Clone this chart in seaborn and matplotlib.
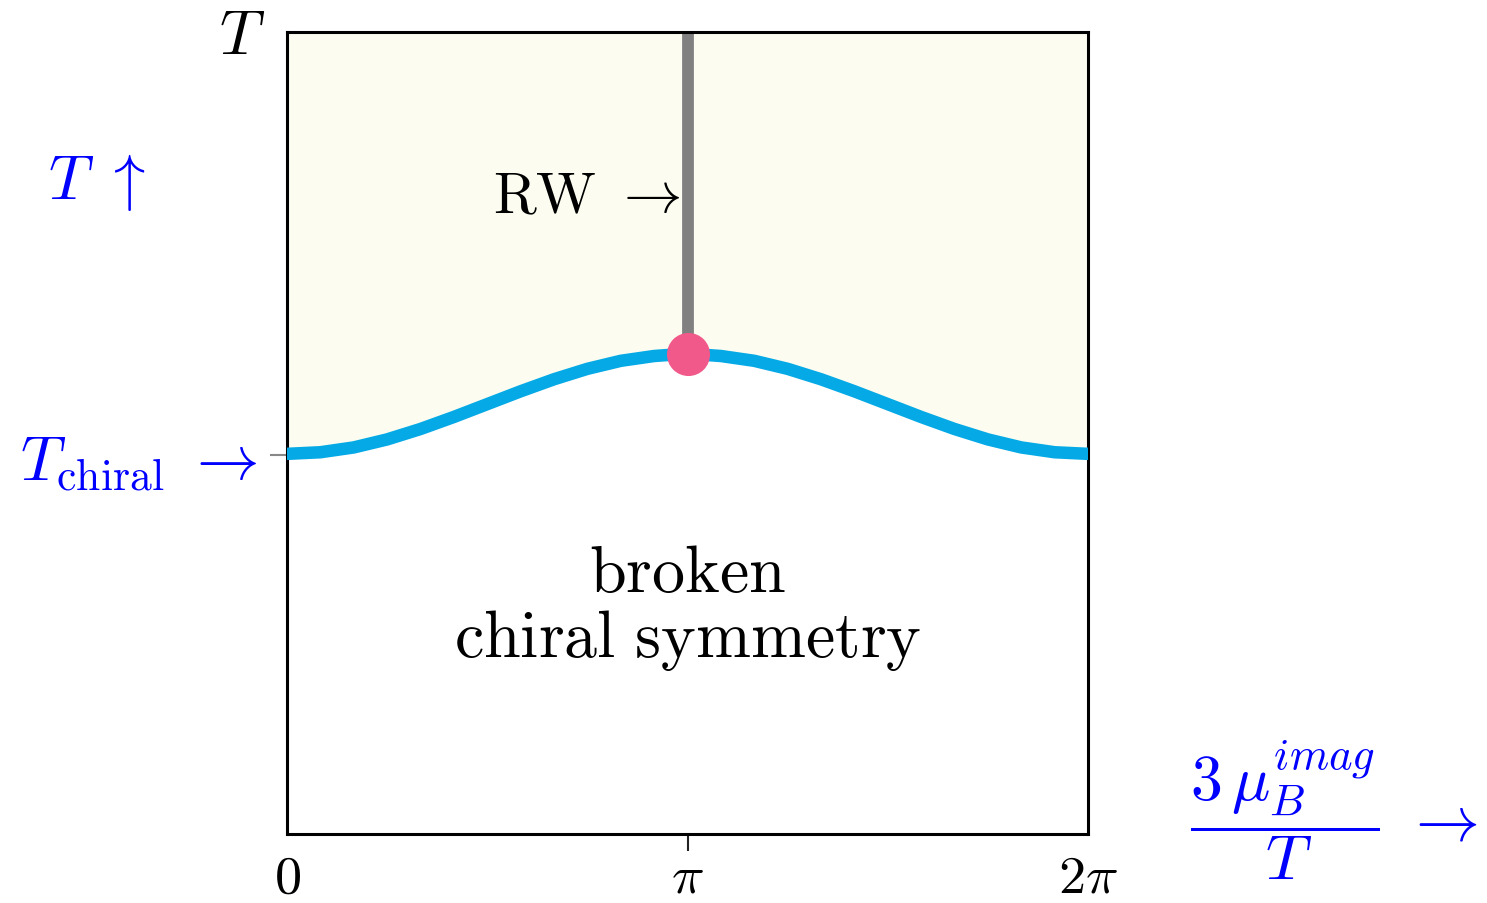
import numpy as np
import pandas as pd
import matplotlib
matplotlib.use("Agg")
import matplotlib.pyplot as plt
import seaborn as sns

# ---- data ----
mu_over_pi = [k / 12 for k in range(25)]          # 3 mu_B^imag / T in units of pi
T_chiral_curve = [0.474, 0.476, 0.482, 0.492, 0.505, 0.520, 0.536, 0.552, 0.567,
                  0.580, 0.590, 0.596, 0.599, 0.596, 0.590, 0.580, 0.567, 0.552,
                  0.536, 0.520, 0.505, 0.492, 0.482, 0.476, 0.474]
T_chiral_level = 0.4726
rw_x = np.pi
rw_T_start = 0.599
T_top = 1.0
x_tick_values = [0, np.pi, 2 * np.pi]
x_tick_labels = [r"$0$", r"$\pi$", r"$2\pi$"]

sns.set_theme(style="white")
plt.rcParams["mathtext.fontset"] = "cm"
plt.rcParams["font.family"] = ["DejaVu Serif"]
plt.rcParams["text.color"] = "black"
plt.rcParams["xtick.color"] = "black"

df = pd.DataFrame({"mu": np.array(mu_over_pi) * np.pi, "T": T_chiral_curve})

fig = plt.figure(figsize=(14.87, 9.04), dpi=100)
ax = fig.add_axes([287 / 1487, 1 - 835 / 904, 801 / 1487, 802 / 904])

ax.fill_between(df["mu"], df["T"], T_top, color="#fcfdf0", zorder=0, linewidth=0)
ax.plot([rw_x, rw_x], [rw_T_start, T_top], color="#808080", lw=8.5,
        solid_capstyle="butt", zorder=2)
sns.lineplot(data=df, x="mu", y="T", ax=ax, color="#05a9e6", lw=9, zorder=3,
             sort=False)
ax.plot([rw_x], [rw_T_start], "o", color="#f2598b", ms=31, zorder=4, mec="none")

ax.set_xlim(0, 2 * np.pi)
ax.set_ylim(0, 1)
ax.set_xlabel("")
ax.set_ylabel("")

for s in ax.spines.values():
    s.set_visible(True)
    s.set_color("black")
    s.set_linewidth(2.2)

ax.set_xticks(x_tick_values)
ax.set_xticklabels(x_tick_labels, fontsize=39, color="black")
ax.tick_params(axis="x", direction="out", length=12, width=1.5, color="#222222",
               pad=0, bottom=True)
xt = ax.xaxis.get_major_ticks()
xt[0].tick1line.set_visible(False)
xt[2].tick1line.set_visible(False)

ax.set_yticks([T_chiral_level])
ax.set_yticklabels([r"$T_{\mathrm{chiral}}\ \rightarrow$"], fontsize=45, color="blue")
ax.tick_params(axis="y", direction="out", length=12, width=1.5, color="#888888",
               pad=9, left=True)

ax.text(np.pi - 0.06, 0.795, r"$\mathrm{RW}\ \rightarrow$", fontsize=42,
        ha="right", va="center", color="black")
ax.text(np.pi, 0.326, r"$\mathrm{broken}$", fontsize=47.5, ha="center",
        va="center", color="black")
ax.text(np.pi, 0.243, r"$\mathrm{chiral\ symmetry}$", fontsize=47.5, ha="center",
        va="center", color="black")

ax.text(-0.298, 0.814, r"$T\ \uparrow$", fontsize=45, color="blue",
        transform=ax.transAxes, ha="left", va="center")
ax.text(-0.056, 0.996, r"$T$", fontsize=45, color="black",
        transform=ax.transAxes, ha="center", va="center")
ax.text(1.307, 0.031, r"$\dfrac{3\,\mu_B^{imag}}{T}\ \rightarrow$", fontsize=46,
        color="blue", transform=ax.transAxes, ha="center", va="center")

fig.savefig("out.png", dpi=100)
